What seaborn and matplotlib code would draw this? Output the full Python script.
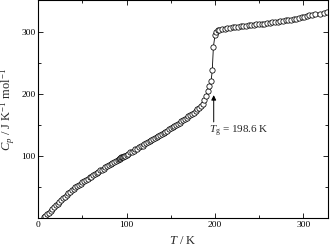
import matplotlib
matplotlib.use("Agg")
import matplotlib.pyplot as plt
import seaborn as sns
import pandas as pd
from matplotlib.ticker import MultipleLocator

# Temperature (K)
T = [6, 8, 10, 12, 14, 16, 18, 20, 22, 24, 26, 28, 30, 32, 34, 36, 38, 40,
     42, 44, 46, 48, 50, 52, 54, 56, 58, 60, 62, 64, 66, 68, 70, 72, 74, 76,
     78, 80, 82, 84, 86, 88, 90, 91, 92, 93, 94, 95, 96, 97, 98, 100, 102,
     104, 106, 108, 110, 112, 114, 116, 118, 120, 122, 124, 126, 128, 130,
     132, 134, 136, 138, 140, 142, 144, 146, 148, 150, 152, 154, 156, 158,
     160, 162, 164, 166, 168, 170, 172, 174, 176, 178, 180, 182, 184, 186,
     188, 190, 192, 193.7, 195.6, 197, 198.2, 200.1, 201.5, 203, 205, 208,
     211, 214, 217, 220, 223, 226, 229, 232, 235, 238, 241, 244, 247, 250,
     253, 256, 259, 262, 265, 268, 271, 274, 277, 280, 283, 286, 289, 292,
     295, 298, 301, 304, 307, 310, 313, 319, 323, 327]

# Heat capacity (J K^-1 mol^-1)
Cp = [2, 4, 7, 9, 12, 15, 18, 21, 24, 27, 30, 33, 35, 38, 41, 43, 46, 48,
      50, 52, 54, 56, 58, 60, 62, 64, 66, 67, 69, 71, 73, 75, 77, 78, 80, 82,
      84, 86, 87, 89, 91, 92, 94, 95, 96, 97, 98, 99, 99, 100, 101, 102, 104,
      106, 107, 109, 111, 112, 114, 116, 117, 119, 121, 122, 124, 126, 127,
      129, 131, 132, 134, 136, 137, 139, 141, 143, 145, 147, 148, 150, 152,
      154, 156, 158, 160, 162, 164, 166, 168, 170, 172, 175, 177, 180, 184,
      190, 197, 205, 212, 220, 238, 275, 295, 300, 302, 303, 304,
      305, 305.5, 306, 307, 307.5, 308, 308.5, 309, 309.5, 310, 310.5, 311, 311.5, 312,
      312.5, 313, 313.5, 314, 315, 315.5, 316, 316.5, 317, 318, 318.5, 319, 320, 321,
      322, 323, 324, 325, 326, 327, 328, 329, 330, 331]

x_ticks = [0, 100, 200, 300]
y_ticks = [100, 200, 300]

Tg = 198.6
Tg_label = r"$T_\mathrm{g}$ = 198.6 K"

sns.set_theme(style="ticks")
plt.rcParams["font.family"] = ["Liberation Serif", "DejaVu Serif"]
plt.rcParams["mathtext.fontset"] = "custom"
plt.rcParams["mathtext.rm"] = "Liberation Serif"
plt.rcParams["mathtext.it"] = "Liberation Serif:italic"
plt.rcParams["mathtext.bf"] = "Liberation Serif:bold"

df = pd.DataFrame({"T": T, "Cp": Cp})

fig = plt.figure(figsize=(3.3, 2.46), dpi=100)
ax = fig.add_axes([0.116, 0.112, 0.878, 0.886])

sns.lineplot(data=df, x="T", y="Cp", ax=ax, sort=False, estimator=None,
             color="black", linewidth=0.6, marker="o", markersize=3.8,
             markerfacecolor="white", markeredgecolor="black",
             markeredgewidth=0.55)

ax.set_xlim(0, 328)
ax.set_ylim(0, 350)
ax.set_xticks(x_ticks)
ax.set_yticks(y_ticks)
ax.xaxis.set_minor_locator(MultipleLocator(50))
ax.yaxis.set_minor_locator(MultipleLocator(50))
ax.tick_params(which="both", direction="in", top=True, right=True,
               labelsize=6.8, colors="black", width=0.6, pad=2)
ax.tick_params(which="major", length=3.5)
ax.tick_params(which="minor", length=2)
for s in ax.spines.values():
    s.set_linewidth(0.8)
    s.set_color("black")

ax.set_xlabel(r"$T$ / K", fontsize=9, labelpad=4)
ax.set_ylabel(r"$C_p$ / J K$^{-1}$ mol$^{-1}$", fontsize=9, labelpad=3)

ax.annotate("", xy=(Tg, 198), xytext=(Tg, 155),
            arrowprops=dict(arrowstyle="-|>", color="black", lw=0.7,
                            mutation_scale=7, shrinkA=0, shrinkB=0))
ax.text(193.5, 139, Tg_label, fontsize=8, ha="left", va="center")

fig.savefig("out.png", dpi=100)
